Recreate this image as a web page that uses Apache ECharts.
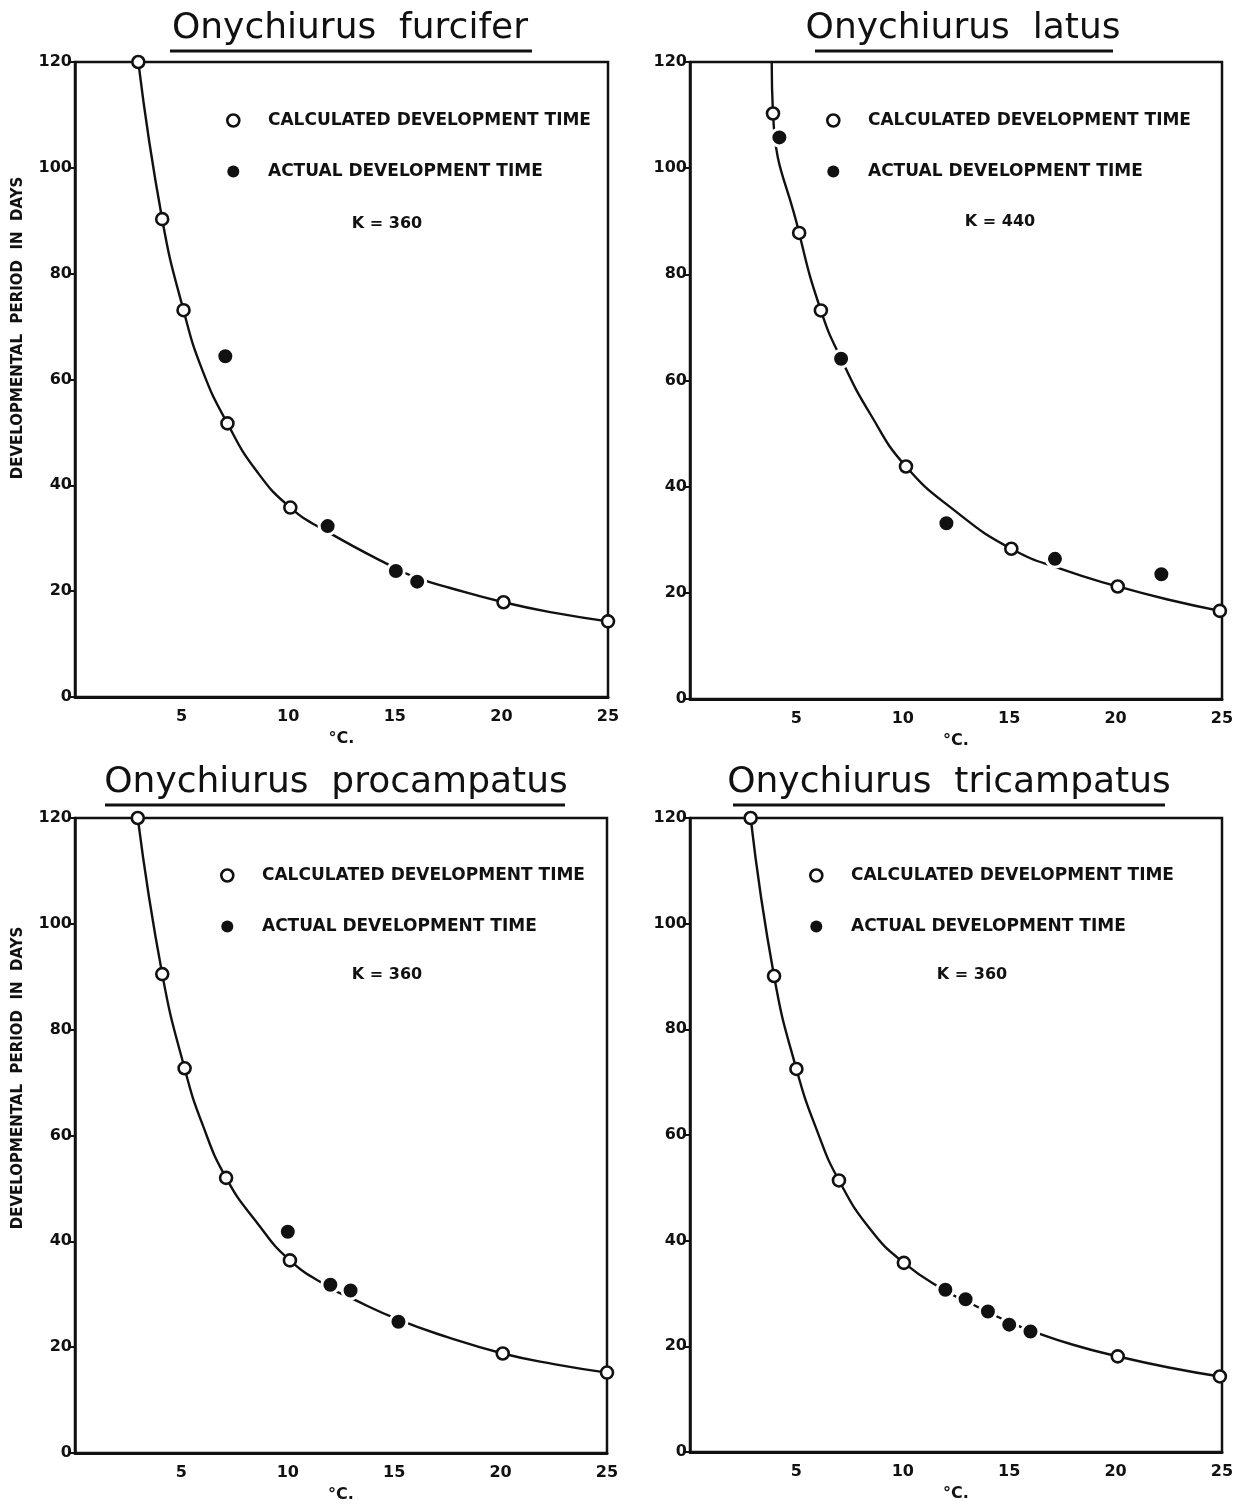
<!DOCTYPE html>
<html>
<head>
<meta charset="utf-8">
<script src="https://cdn.jsdelivr.net/npm/echarts@6/dist/echarts.min.js"></script>
<style>
  html, body { margin: 0; padding: 0; background: #ffffff; }
  #chart { width: 1238px; height: 1504px; }
</style>
</head>
<body>
<div id="chart"></div>
<script>
  // values: [temperature °C, days]
  const xTicks = [5, 10, 15, 20, 25];
  const yTicks = [0, 20, 40, 60, 80, 100, 120];

  const furciferCalc = [[2.97, 120], [4.09, 90.3], [5.09, 73.1], [7.15, 51.7], [10.1, 35.8], [20.1, 17.9], [25, 14.3]];
  const furciferActual = [[7.05, 64.4], [11.85, 32.3], [15.05, 23.8], [16.05, 21.8]];
  const furciferCurve = [[2.97, 120], [4.09, 90.3], [5.09, 73.1], [6, 61.5], [7.15, 51.7], [8.5, 42.8], [10.1, 35.8],
    [11.85, 31.2], [15.05, 24.3], [16.05, 22.5], [17.6, 20.6], [20.1, 17.9], [22.5, 15.9], [25, 14.3]];

  const latusCalc = [[3.9, 110.3], [5.13, 87.8], [6.15, 73.2], [10.15, 43.8], [15.1, 28.3], [20.1, 21.2], [24.9, 16.6]];
  const latusActual = [[4.2, 105.8], [7.1, 64.1], [12.05, 33.1], [17.15, 26.4], [22.15, 23.5]];
  const latusCurve = [[3.84, 120], [3.9, 110.3], [5.13, 87.8], [6.15, 73.2], [7.1, 64.1], [8.5, 53.5],
    [10.15, 43.8], [12.5, 35.3], [15.1, 28.3], [17.5, 24.4], [20.1, 21.2], [22.5, 18.7], [24.9, 16.6]];

  const procCalc = [[2.95, 120], [4.1, 90.5], [5.15, 72.7], [7.1, 52], [10.1, 36.4], [20.1, 18.8], [25, 15.2]];
  const procActual = [[10, 41.8], [12, 31.8], [12.95, 30.7], [15.2, 24.8]];
  const procCurve = [[2.95, 120], [4.1, 90.5], [5.15, 72.7], [6, 62], [7.1, 52], [8.5, 43.8], [10.1, 36.4],
    [12, 31.2], [12.95, 29.3], [15.2, 25.2], [17.5, 21.9], [20.1, 18.8], [22.5, 16.8], [25, 15.2]];

  const tricCalc = [[2.85, 120], [3.95, 90.1], [5.0, 72.5], [7.0, 51.4], [10.05, 35.8], [20.1, 18.1], [24.9, 14.3]];
  const tricActual = [[12, 30.7], [12.95, 28.9], [14, 26.6], [15, 24.1], [16, 22.8]];
  const tricCurve = [[2.85, 120], [3.95, 90.1], [5, 72.5], [6, 60.5], [7, 51.4], [8.5, 42], [10.05, 35.8],
    [12, 30.5], [12.95, 28.6], [14, 26.5], [15, 24.6], [16, 23.0], [18, 20.3], [20.1, 18.1], [22.5, 16], [24.9, 14.3]];

  const CALC = 'CALCULATED DEVELOPMENT TIME';
  const ACT = 'ACTUAL DEVELOPMENT TIME';
  const INK = '#111111';
  const FONT = 'DejaVu Sans';

  const panels = [
    { title: 'Onychiurus  furcifer', k: 'K = 360', calc: furciferCalc, actual: furciferActual, curve: furciferCurve,
      grid: { left: 75, top: 62, width: 533, height: 635 }, titlePos: [350, 29], line: [170, 532, 51],
      legend: [226, 112], kPos: [387, 224], yName: [18, 328] },
    { title: 'Onychiurus  latus', k: 'K = 440', calc: latusCalc, actual: latusActual, curve: latusCurve,
      grid: { left: 690, top: 62, width: 532, height: 637 }, titlePos: [963, 29], line: [815, 1113, 51],
      legend: [826, 112], kPos: [1000, 222] },
    { title: 'Onychiurus  procampatus', k: 'K = 360', calc: procCalc, actual: procActual, curve: procCurve,
      grid: { left: 75, top: 818, width: 532, height: 638 }, titlePos: [336, 783], line: [105, 565, 805],
      legend: [220, 867], kPos: [387, 975], yName: [18, 1078] },
    { title: 'Onychiurus  tricampatus', k: 'K = 360', calc: tricCalc, actual: tricActual, curve: tricCurve,
      grid: { left: 690, top: 818, width: 532, height: 634 }, titlePos: [949, 783], line: [733, 1165, 805],
      legend: [809, 867], kPos: [972, 975] }
  ];

  const labelStyle = { color: INK, fontFamily: FONT, fontWeight: 'bold', fontSize: 16 };

  const grids = [], xAxes = [], yAxes = [], series = [], legends = [], graphics = [];

  panels.forEach(function(p, i) {
    grids.push(Object.assign({ show: true, borderColor: INK, borderWidth: 2.5, backgroundColor: 'transparent' }, p.grid));

    xAxes.push({
      type: 'value', gridIndex: i, min: 0, max: 25, interval: 5,
      axisLine: { show: true, onZero: false, lineStyle: { color: INK, width: 3 } },
      axisTick: { show: false },
      splitLine: { show: false },
      axisLabel: Object.assign({ margin: 12, formatter: function(v) { return xTicks.includes(v) ? String(v) : ''; } }, labelStyle),
      name: '°C.', nameLocation: 'middle', nameGap: 34,
      nameTextStyle: labelStyle
    });

    yAxes.push({
      type: 'value', gridIndex: i, min: 0, max: 120, interval: 20,
      axisLine: { show: true, lineStyle: { color: INK, width: 2.5 } },
      axisTick: { show: true, length: 7, lineStyle: { color: INK, width: 2 } },
      splitLine: { show: false },
      axisLabel: Object.assign({ margin: 3, formatter: function(v) { return yTicks.includes(v) ? String(v) : ''; } }, labelStyle)
    });

    series.push({
      type: 'line', xAxisIndex: i, yAxisIndex: i, data: p.curve,
      smooth: 0.5, symbol: 'none', silent: true, z: 2,
      lineStyle: { color: INK, width: 2.4 }
    });
    series.push({
      type: 'scatter', name: CALC, xAxisIndex: i, yAxisIndex: i, data: p.calc,
      symbol: 'circle', symbolSize: 12, clip: false, z: 3,
      itemStyle: { color: '#ffffff', borderColor: INK, borderWidth: 2.6, opacity: 1 }
    });
    series.push({
      type: 'scatter', name: ACT, xAxisIndex: i, yAxisIndex: i, data: p.actual,
      symbol: 'circle', symbolSize: 17, clip: false, z: 4,
      itemStyle: { color: INK, borderColor: '#ffffff', borderWidth: 3, opacity: 1 }
    });

    legends.push({
      orient: 'vertical', left: p.legend[0], top: p.legend[1], padding: 0,
      itemGap: 34, itemWidth: 12, itemHeight: 12, selectedMode: false,
      data: [
        { name: CALC, icon: 'circle', itemStyle: { color: '#ffffff', borderColor: INK, borderWidth: 2.6, opacity: 1 } },
        { name: ACT, icon: 'circle', itemStyle: { color: INK, borderColor: INK, borderWidth: 0, opacity: 1 } }
      ],
      formatter: function(n) { return '    ' + n; },
      textStyle: { color: INK, fontFamily: FONT, fontWeight: 'bold', fontSize: 17 }
    });

    graphics.push({
      type: 'text', x: p.titlePos[0], y: p.titlePos[1],
      style: { text: p.title, fill: INK, fontFamily: FONT, fontSize: 36, align: 'center', verticalAlign: 'middle' }
    });
    graphics.push({
      type: 'line', shape: { x1: p.line[0], y1: p.line[2], x2: p.line[1], y2: p.line[2] },
      style: { stroke: INK, lineWidth: 3 }
    });
    graphics.push({
      type: 'text', x: p.kPos[0], y: p.kPos[1],
      style: { text: p.k, fill: INK, fontFamily: FONT, fontWeight: 'bold', fontSize: 16, align: 'center', verticalAlign: 'middle' }
    });
    if (p.yName) {
      graphics.push({
        type: 'text', x: p.yName[0], y: p.yName[1], rotation: Math.PI / 2,
        style: { text: 'DEVELOPMENTAL  PERIOD  IN  DAYS', fill: INK, fontFamily: FONT, fontWeight: 'bold', fontSize: 15,
          align: 'center', verticalAlign: 'middle' }
      });
    }
  });

  const chart = echarts.init(document.getElementById('chart'), null, { renderer: 'canvas' });
  chart.setOption({
    backgroundColor: '#ffffff',
    animation: false,
    grid: grids,
    xAxis: xAxes,
    yAxis: yAxes,
    legend: legends,
    series: series,
    graphic: graphics
  });
</script>
</body>
</html>
